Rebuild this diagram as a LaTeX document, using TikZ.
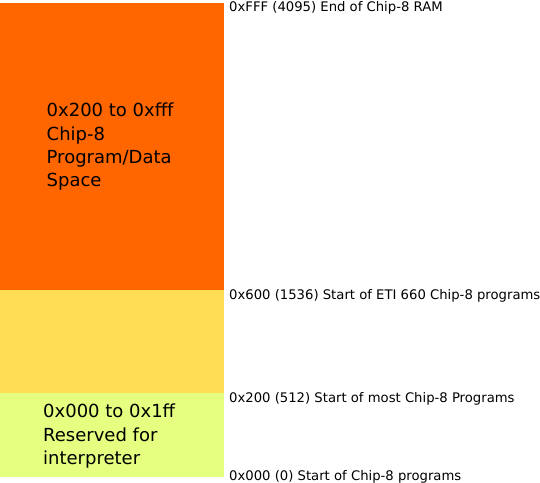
\documentclass[tikz,border=0pt]{standalone}
\usepackage{fontspec}
\setmainfont{DejaVu Sans}
\usepackage{xcolor}
\usetikzlibrary{positioning}
\definecolor{progorange}{HTML}{FF6600}
\definecolor{etiyellow}{HTML}{FFDD55}
\definecolor{resgreen}{HTML}{E5FF80}
\tikzset{
    blocktext/.style={
        anchor=base west,
        align=left,
        inner sep=0pt,
        font=\fontsize{18pt}{23.4pt}\selectfont
    },
    addr/.style={
        anchor=base west,
        inner sep=0pt,
        font=\fontsize{13.2pt}{16pt}\selectfont
    }
}
\begin{document}
\begin{tikzpicture}[x=1pt, y=1pt]
\useasboundingbox (0,0) rectangle (540,-482);

% Memory blocks
\fill[progorange] (0,-3) rectangle (224,-290);
\fill[etiyellow] (0,-290) rectangle (224,-393.3);
\fill[resgreen] (0,-393.3) rectangle (224,-477.3);

% base of a multi-line node sits on its last line
\node[blocktext] (prog) at (46.5,-186.9) {0x200 to 0xfff\\Chip-8\\Program/Data\\Space};
\node[blocktext] (res) at (43,-464.5) {0x000 to 0x1ff\\Reserved for\\interpreter};

% Address labels
\node[addr] (aend) at (229,-11.3) {0xFFF (4095) End of Chip-8 RAM};
\node[addr] (aeti) at (229,-299.5) {0x600 (1536) Start of ETI 660 Chip-8 programs};
\node[addr] (amost) at (229,-402.7) {0x200 (512) Start of most Chip-8 Programs};
\node[addr] (azero) at (229,-480) {0x000 (0) Start of Chip-8 programs};

\end{tikzpicture}
\end{document}
